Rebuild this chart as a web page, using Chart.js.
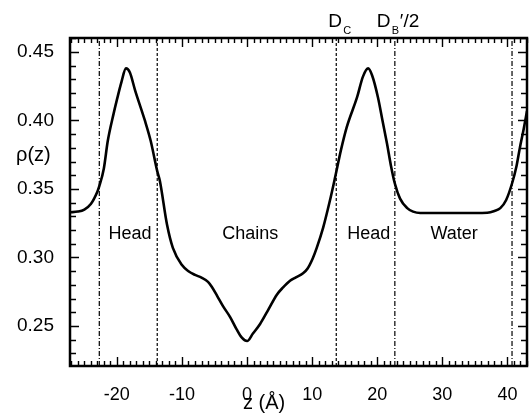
<!DOCTYPE html>
<html>
<head>
<meta charset="utf-8">
<script src="https://cdn.jsdelivr.net/npm/chart.js@4/dist/chart.umd.min.js"></script>
<style>body{margin:0;background:#fff}</style>
</head>
<body>
<canvas id="densityChart" width="529" height="414"></canvas>
<script>
// density profile rho(z)
const zValues = [-27.2, -26, -25, -24, -23, -22.7, -22, -21.4, -20.5, -20, -19.3, -18.6, -18, -17.2,
  -15.7, -14.8, -13.8, -13.4, -12.3, -11.4, -10, -9, -8, -7, -6, -5.4, -4.6, -3.7, -2.6, -1.6, -0.8,
  0, 0.9, 2, 3.1, 4.6, 5.5, 6.6, 7.5, 8.6, 9.3, 10.1, 10.7, 11.7, 12.7, 13.5, 14.4, 15.3, 16.9, 17.8,
  18.6, 19.2, 20.1, 20.8, 21.5, 22.1, 22.7, 23.5, 24.6, 25.5, 26.6, 30, 35, 36.9, 38, 38.9, 39.8,
  40.7, 41.4, 41.9, 42.5, 43];
const rhoValues = [0.333, 0.3335, 0.335, 0.339, 0.348, 0.352, 0.365, 0.385, 0.405, 0.415, 0.428, 0.438, 0.435, 0.422,
  0.400, 0.385, 0.363, 0.356, 0.324, 0.307, 0.2945, 0.290, 0.2873, 0.2853, 0.2822, 0.2785, 0.272, 0.2645, 0.2565, 0.2475, 0.2415,
  0.239, 0.2445, 0.2515, 0.2605, 0.273, 0.278, 0.283, 0.2855, 0.2885, 0.292, 0.2995, 0.307, 0.322, 0.341, 0.358, 0.378, 0.395, 0.417, 0.432,
  0.438, 0.433, 0.417, 0.400, 0.383, 0.367, 0.354, 0.343, 0.336, 0.3335, 0.3325, 0.3325, 0.3325, 0.3327, 0.334, 0.336, 0.342,
  0.354, 0.367, 0.380, 0.394, 0.407];

const xTicks = [-20, -10, 0, 10, 20, 30, 40];
const yTicks = [0.25, 0.30, 0.35, 0.40, 0.45];
const xRange = [-27.2, 43];
const yRange = [0.2208, 0.4602];

// region boundaries (vertical lines)
const boundaryZ = [-22.7, -13.8, 13.7, 22.7, 40.7];
const boundaryKind = ['dashdot', 'dash', 'dash', 'dashdot', 'dashdot'];

// region names
const regionNames = ['Head', 'Chains', 'Head', 'Water'];
const regionZ = [-18, 0.5, 18.7, 31.8];
const regionRho = 0.317;

const FONT = '"Liberation Sans", Arial, Helvetica, sans-serif';

const datasets = [{
  data: zValues.map((z, i) => ({ x: z, y: rhoValues[i] })),
  borderColor: '#000',
  borderWidth: 2.6,
  pointRadius: 0,
  showLine: true,
  cubicInterpolationMode: 'monotone'
}];
boundaryZ.forEach((z, i) => {
  datasets.push({
    data: [{ x: z, y: yRange[0] }, { x: z, y: yRange[1] }],
    borderColor: '#000',
    borderWidth: 1.2,
    borderDash: boundaryKind[i] === 'dash' ? [3, 2] : [5, 2, 1, 2],
    pointRadius: 0,
    showLine: true
  });
});

const framePlugin = {
  id: 'frame',
  afterDraw(chart) {
    const { ctx, chartArea: a, scales: { x, y } } = chart;
    ctx.save();
    ctx.strokeStyle = '#000';
    ctx.lineWidth = 1.4;
    ctx.beginPath();
    for (let v = Math.ceil(xRange[0]); v <= xRange[1]; v++) {
      const px = Math.round(x.getPixelForValue(v)) + 0.5;
      const len = v % 10 === 0 ? 9 : 5;
      ctx.moveTo(px, a.bottom); ctx.lineTo(px, a.bottom - len);
      ctx.moveTo(px, a.top); ctx.lineTo(px, a.top + len);
    }
    for (let k = Math.ceil(yRange[0] * 100); k <= yRange[1] * 100; k++) {
      const py = Math.round(y.getPixelForValue(k / 100)) + 0.5;
      const len = k % 5 === 0 ? 9 : 6;
      ctx.moveTo(a.left, py); ctx.lineTo(a.left + len, py);
      ctx.moveTo(a.right, py); ctx.lineTo(a.right - len, py);
    }
    ctx.stroke();
    ctx.lineWidth = 2.5;
    ctx.strokeRect(a.left, a.top, a.right - a.left, a.bottom - a.top);

    ctx.fillStyle = '#000';
    ctx.textBaseline = 'middle';
    ctx.textAlign = 'center';
    ctx.font = '18px ' + FONT;
    regionNames.forEach((name, i) => {
      ctx.fillText(name, x.getPixelForValue(regionZ[i]), y.getPixelForValue(regionRho));
    });

    // labels above the plot
    ctx.textAlign = 'left';
    ctx.textBaseline = 'alphabetic';
    const dc = x.getPixelForValue(boundaryZ[2]);
    const db = x.getPixelForValue(boundaryZ[3]);
    ctx.font = '19px ' + FONT;
    ctx.fillText('D', dc - 8, 27);
    ctx.fillText('D', db - 18, 27);
    ctx.fillText('\u2032/2', db + 5, 27);
    ctx.font = '11px ' + FONT;
    ctx.fillText('C', dc + 7, 34);
    ctx.fillText('B', db - 3, 34);

    // axis titles
    ctx.font = '20px ' + FONT;
    ctx.textBaseline = 'middle';
    ctx.fillText('\u03c1(z)', 16, 155);
    ctx.textBaseline = 'alphabetic';
    ctx.fillText('z (\u00c5)', 243, 409);
    ctx.restore();
  }
};

new Chart(document.getElementById('densityChart'), {
  type: 'scatter',
  data: { datasets },
  options: {
    responsive: false,
    animation: false,
    devicePixelRatio: 1,
    layout: { padding: { top: 38, right: 2, left: 0, bottom: 0 } },
    plugins: { legend: { display: false }, tooltip: { enabled: false } },
    scales: {
      x: {
        type: 'linear',
        min: xRange[0],
        max: xRange[1],
        afterBuildTicks: s => { s.ticks = xTicks.map(value => ({ value })); },
        afterFit: s => { s.height = 48; },
        ticks: { color: '#000', font: { size: 18, family: FONT }, padding: 10, maxRotation: 0, callback: v => String(v) },
        grid: { display: false },
        border: { display: false }
      },
      y: {
        type: 'linear',
        min: yRange[0],
        max: yRange[1],
        afterBuildTicks: s => { s.ticks = yTicks.map(value => ({ value })); },
        afterFit: s => { s.width = 70; },
        ticks: { color: '#000', font: { size: 19, family: FONT }, padding: 8, callback: v => v.toFixed(2) },
        grid: { display: false },
        border: { display: false }
      }
    }
  },
  plugins: [framePlugin]
});
</script>
</body>
</html>
